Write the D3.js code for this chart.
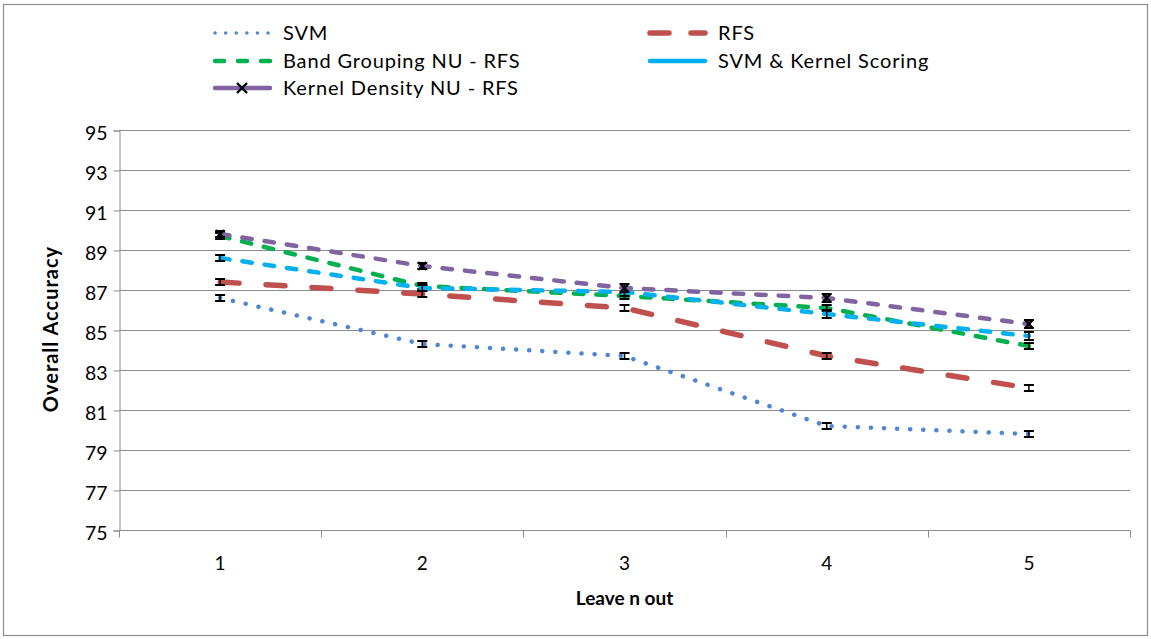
<!DOCTYPE html>
<html>
<head>
<meta charset="utf-8">
<script src="https://cdn.jsdelivr.net/npm/d3@7"></script>
<style>
  html, body { margin: 0; padding: 0; background: #fff; }
  svg text { font-family: Lato, "Liberation Sans", sans-serif; fill: #000; }
</style>
</head>
<body>
<svg id="chart" width="1151" height="639"></svg>
<script>
// Leave-n-out categories and overall accuracy per method
const categories = ["1", "2", "3", "4", "5"];
const svmAcc       = [86.6, 84.3, 83.7, 80.2, 79.8];
const rfsAcc       = [87.4, 86.8, 86.1, 83.7, 82.1];
const bandAcc      = [89.7, 87.2, 86.7, 86.1, 84.2];
const svmKernelAcc = [88.6, 87.1, 86.9, 85.8, 84.7];
const kdeAcc       = [89.8, 88.2, 87.1, 86.6, 85.3];

// half-width of the error bars
const svmErr       = [0.15, 0.15, 0.15, 0.15, 0.15];
const rfsErr       = [0.15, 0.15, 0.15, 0.15, 0.15];
const bandErr      = [0.15, 0.15, 0.15, 0.15, 0.15];
const svmKernelErr = [0.15, 0.15, 0.2, 0.2, 0.2];
const kdeErr       = [0.15, 0.15, 0.2, 0.2, 0.2];

const yTicks = [75, 77, 79, 81, 83, 85, 87, 89, 91, 93, 95];

const series = [
  { name: "SVM", values: svmAcc, err: svmErr, color: "#4F86D4", width: 4.5, dash: "0.1,13", legendDash: "0.1,10.5", legendWidth: 3.5 },
  { name: "RFS", values: rfsAcc, err: rfsErr, color: "#C0504D", width: 5.5, dash: "19,27", legendDash: "19,22", legendWidth: 5.5 },
  { name: "Band Grouping NU - RFS", values: bandAcc, err: bandErr, color: "#00B050", width: 4.5, dash: "9.5,13", legendDash: "9,14", legendWidth: 4.5 },
  { name: "SVM & Kernel Scoring", values: svmKernelAcc, err: svmKernelErr, color: "#00B0F0", width: 4.5, dash: "9.5,13", legendDash: null, legendWidth: 4.5 },
  { name: "Kernel Density NU - RFS", values: kdeAcc, err: kdeErr, color: "#8064A2", width: 4.5, dash: "9.5,13", legendDash: null, legendWidth: 4.5, marker: true }
];

const svg = d3.select("#chart");
const plot = { left: 119, top: 130, right: 1130, bottom: 530 };

// outer frame
svg.append("rect")
  .attr("x", 3.5).attr("y", 4.5)
  .attr("width", 1144).attr("height", 631)
  .attr("fill", "#fff").attr("stroke", "#8c8c8c").attr("stroke-width", 1.2);

const x = d3.scaleBand().domain(categories).range([plot.left, plot.right]);
const y = d3.scaleLinear().domain([75, 95]).range([plot.bottom, plot.top]);
const cx = c => x(c) + x.bandwidth() / 2;

// horizontal gridlines
svg.append("g")
  .selectAll("line")
  .data(yTicks.filter(v => v !== 75))
  .join("line")
  .attr("x1", plot.left).attr("x2", plot.right)
  .attr("y1", d => Math.round(y(d)) + 0.5).attr("y2", d => Math.round(y(d)) + 0.5)
  .attr("stroke", "#8c8c8c").attr("stroke-width", 1);

// y axis
const yAxis = d3.axisLeft(y).tickValues(yTicks).tickSize(6).tickPadding(6).tickFormat(d3.format("d"));
const gy = svg.append("g").attr("transform", `translate(${plot.left + 0.5},0.5)`).call(yAxis);
gy.select(".domain").attr("stroke", "#8c8c8c");
gy.selectAll(".tick line").attr("stroke", "#8c8c8c");
gy.selectAll(".tick text").attr("font-size", 19.5).attr("dy", "0.45em").style("font-family", "Lato, 'Liberation Sans', sans-serif");

// x axis with tick marks on the category boundaries
const gx = svg.append("g").attr("transform", `translate(0,${plot.bottom + 0.5})`);
gx.append("line")
  .attr("x1", plot.left).attr("x2", plot.right)
  .attr("stroke", "#8c8c8c");
const bounds = categories.map(c => x(c)).concat([plot.right]);
gx.selectAll("line.tk").data(bounds).join("line").attr("class", "tk")
  .attr("x1", d => Math.round(d) + 0.5).attr("x2", d => Math.round(d) + 0.5)
  .attr("y1", 0).attr("y2", 7)
  .attr("stroke", "#8c8c8c");
gx.selectAll("text").data(categories).join("text")
  .attr("x", d => cx(d)).attr("y", 39)
  .attr("text-anchor", "middle").attr("font-size", 19)
  .text(d => d);

// axis titles
svg.append("text")
  .attr("x", (plot.left + plot.right) / 2).attr("y", 605)
  .attr("text-anchor", "middle").attr("font-size", 19).attr("font-weight", "bold")
  .text("Leave n out");
svg.append("text")
  .attr("transform", `translate(58,${(plot.top + plot.bottom) / 2 - 1}) rotate(-90)`)
  .attr("text-anchor", "middle").attr("font-size", 20).attr("font-weight", "bold")
  .attr("letter-spacing", 1)
  .text("Overall Accuracy");

// series lines, error bars and markers
const line = d3.line().x((d, i) => cx(categories[i])).y(d => y(d));
series.forEach(s => {
  const g = svg.append("g");
  g.append("path")
    .attr("d", line(s.values))
    .attr("fill", "none")
    .attr("stroke", s.color)
    .attr("stroke-width", s.width)
    .attr("stroke-linecap", "round")
    .attr("stroke-dasharray", s.dash);

  const eb = g.selectAll("g.err").data(s.values).join("g").attr("class", "err");
  eb.append("line")
    .attr("x1", (d, i) => cx(categories[i])).attr("x2", (d, i) => cx(categories[i]))
    .attr("y1", (d, i) => y(d - s.err[i])).attr("y2", (d, i) => y(d + s.err[i]))
    .attr("stroke", "#000").attr("stroke-width", 1.5);
  [-1, 1].forEach(sign => {
    eb.append("line")
      .attr("x1", (d, i) => cx(categories[i]) - 5).attr("x2", (d, i) => cx(categories[i]) + 5)
      .attr("y1", (d, i) => y(d + sign * s.err[i])).attr("y2", (d, i) => y(d + sign * s.err[i]))
      .attr("stroke", "#000").attr("stroke-width", 2);
  });

  if (s.marker) {
    g.selectAll("path.mk").data(s.values).join("path").attr("class", "mk")
      .attr("transform", (d, i) => `translate(${cx(categories[i])},${y(d)})`)
      .attr("d", "M-4,-4L4,4M-4,4L4,-4")
      .attr("stroke", "#000").attr("stroke-width", 2.2).attr("fill", "none");
  }
});

// legend
const legendItems = [
  { s: series[0], x: 213, y: 33 },
  { s: series[1], x: 648, y: 33 },
  { s: series[2], x: 213, y: 61 },
  { s: series[3], x: 648, y: 61 },
  { s: series[4], x: 213, y: 88 }
];
const lg = svg.append("g");
legendItems.forEach(it => {
  const len = 60;
  lg.append("line")
    .attr("x1", it.x + 2).attr("x2", it.x + len - 3)
    .attr("y1", it.y).attr("y2", it.y)
    .attr("stroke", it.s.color)
    .attr("stroke-width", it.s.legendWidth)
    .attr("stroke-linecap", "round")
    .attr("stroke-dasharray", it.s.legendDash);
  if (it.s.marker) {
    lg.append("path")
      .attr("transform", `translate(${it.x + len / 2 - 1},${it.y})`)
      .attr("d", "M-5,-5L5,5M-5,5L5,-5")
      .attr("stroke", "#000").attr("stroke-width", 2.4).attr("fill", "none");
  }
  lg.append("text")
    .attr("x", it.x + len + 10).attr("y", it.y)
    .attr("dy", "0.36em").attr("font-size", 20)
    .attr("letter-spacing", 0.85)
    .text(it.s.name);
});
</script>
</body>
</html>
